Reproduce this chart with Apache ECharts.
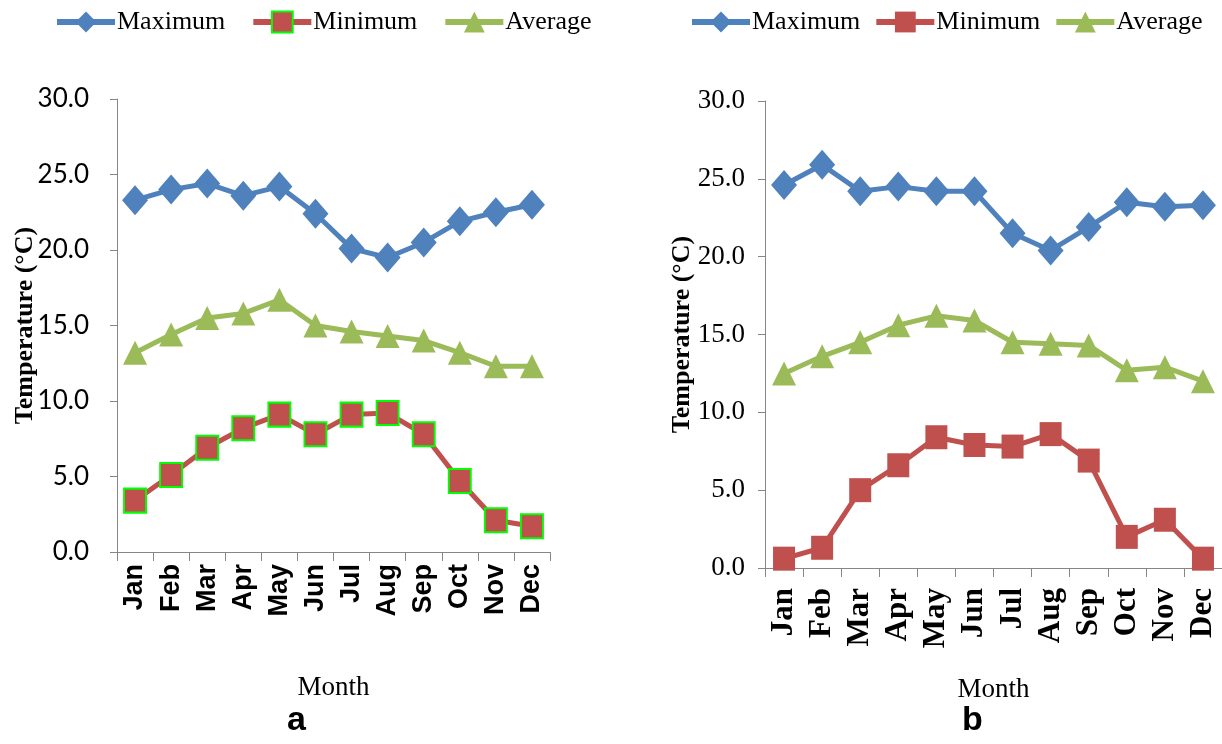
<!DOCTYPE html>
<html>
<head>
<meta charset="utf-8">
<script src="https://cdn.jsdelivr.net/npm/echarts@6/dist/echarts.min.js"></script>
<style>
  html, body { margin: 0; padding: 0; background: #fff; }
  #wrap { position: relative; width: 1222px; height: 744px; }
  .panel { position: absolute; top: 0; width: 611px; height: 744px; }
</style>
</head>
<body>
<div id="wrap">
  <div id="chartA" class="panel" style="left:0"></div>
  <div id="chartB" class="panel" style="left:611px"></div>
</div>
<script>
const months = ["Jan", "Feb", "Mar", "Apr", "May", "Jun", "Jul", "Aug", "Sep", "Oct", "Nov", "Dec"];
const yTicks = [0, 5, 10, 15, 20, 25, 30];

// panel a
const maxA = [23.3, 24.0, 24.4, 23.6, 24.2, 22.4, 20.1, 19.5, 20.5, 21.9, 22.5, 23.0];
const minA = [3.4, 5.1, 6.9, 8.2, 9.1, 7.8, 9.1, 9.2, 7.8, 4.7, 2.1, 1.7];
const avgA = [13.2, 14.4, 15.5, 15.8, 16.7, 15.0, 14.6, 14.3, 14.0, 13.2, 12.3, 12.3];

// panel b
const maxB = [24.6, 25.9, 24.2, 24.5, 24.2, 24.2, 21.5, 20.4, 21.9, 23.5, 23.2, 23.3];
const minB = [0.6, 1.3, 5.0, 6.6, 8.4, 7.9, 7.8, 8.6, 6.9, 2.0, 3.1, 0.6];
const avgB = [12.5, 13.6, 14.5, 15.6, 16.2, 15.9, 14.5, 14.4, 14.3, 12.7, 12.9, 12.0];

const blue = "#4F81BD";
const red = "#C0504D";
const green = "#9BBB59";
const axisGrey = "#868686";
const serif = "'Liberation Serif', 'Times New Roman', serif";

function buildOption(cfg) {
  return {
    animation: false,
    legend: {
      left: cfg.legendLeft,
      top: 9,
      width: 600,
      padding: 0,
      itemWidth: 58,
      itemHeight: 26,
      itemGap: cfg.legendGap,
      lineStyle: { width: 6 },
      textStyle: { fontFamily: serif, fontSize: 26, color: "#000", padding: [0, 0, 0, -3] },
      data: ["Maximum", "Minimum", "Average"],
    },
    grid: Object.assign({ outerBoundsMode: "none", containLabel: false }, cfg.grid),
    xAxis: {
      type: "category",
      data: months,
      boundaryGap: true,
      name: "Month",
      nameLocation: "middle",
      nameGap: cfg.monthGap,
      nameMoveOverlap: false,
      nameTextStyle: { fontFamily: serif, fontSize: 27, color: "#000" },
      axisLine: { lineStyle: { color: axisGrey, width: 1 } },
      axisTick: { show: true, length: 9, interval: 0, lineStyle: { color: axisGrey } },
      axisLabel: {
        interval: 0,
        rotate: 90,
        margin: cfg.monthMargin,
        color: "#000",
        fontFamily: cfg.monthFont,
        fontWeight: "bold",
        fontSize: cfg.monthSize,
      },
      splitLine: { show: false },
    },
    yAxis: {
      type: "value",
      min: yTicks[0],
      max: yTicks[yTicks.length - 1],
      interval: 5,
      name: "Temperature (°C)",
      nameLocation: "middle",
      nameRotate: 90,
      nameGap: cfg.tempGap,
      nameMoveOverlap: false,
      nameTextStyle: { fontFamily: serif, fontSize: 26, fontWeight: "bold", color: "#000" },
      axisLine: { show: true, lineStyle: { color: axisGrey, width: 1 } },
      axisTick: { show: true, length: 7, lineStyle: { color: axisGrey } },
      axisLabel: {
        margin: cfg.tickMargin,
        color: "#000",
        fontFamily: cfg.tickFont,
        fontSize: cfg.tickSize,
        formatter: (v) => v.toFixed(1),
      },
      splitLine: { show: false },
    },
    series: [
      {
        name: "Maximum",
        type: "line",
        data: cfg.max,
        showAllSymbol: true,
        symbol: "diamond",
        symbolSize: [26, 30],
        lineStyle: { color: blue, width: 5 },
        itemStyle: { color: blue },
      },
      {
        name: "Minimum",
        type: "line",
        data: cfg.min,
        showAllSymbol: true,
        symbol: "rect",
        symbolSize: [22, 24],
        lineStyle: { color: red, width: 5 },
        itemStyle: cfg.minBorder
          ? { color: red, borderColor: "#00ff00", borderWidth: 2 }
          : { color: red },
      },
      {
        name: "Average",
        type: "line",
        data: cfg.avg,
        showAllSymbol: true,
        symbol: "triangle",
        symbolSize: [24, 24],
        lineStyle: { color: green, width: 5 },
        itemStyle: { color: green },
      },
    ],
    graphic: [
      {
        type: "text",
        left: cfg.letterX,
        top: 704,
        style: {
          text: cfg.letter,
          font: "bold 34px 'Liberation Sans', Arial, sans-serif",
          fill: "#000",
        },
      },
    ],
  };
}

const chartA = echarts.init(document.getElementById("chartA"));
chartA.setOption(
  buildOption({
    legendLeft: 54,
    legendGap: 25,
    grid: { left: 117, right: 61, top: 99, bottom: 192 },
    monthGap: 122,
    monthMargin: 12,
    monthFont: "'Liberation Sans', Arial, sans-serif",
    monthSize: 27,
    tempGap: 79,
    tickMargin: 28,
    tickFont: "Lato, 'Liberation Sans', sans-serif",
    tickSize: 26,
    max: maxA,
    min: minA,
    avg: avgA,
    minBorder: true,
    letter: "a",
    letterX: 287,
  })
);

const chartB = echarts.init(document.getElementById("chartB"));
chartB.setOption(
  buildOption({
    legendLeft: 78,
    legendGap: 13,
    grid: { left: 154, right: 0, top: 101, bottom: 176 },
    monthGap: 108,
    monthMargin: 20,
    monthFont: serif,
    monthSize: 31,
    tempGap: 70,
    tickMargin: 20,
    tickFont: serif,
    tickSize: 27,
    max: maxB,
    min: minB,
    avg: avgB,
    minBorder: false,
    letter: "b",
    letterX: 351,
  })
);
</script>
</body>
</html>
